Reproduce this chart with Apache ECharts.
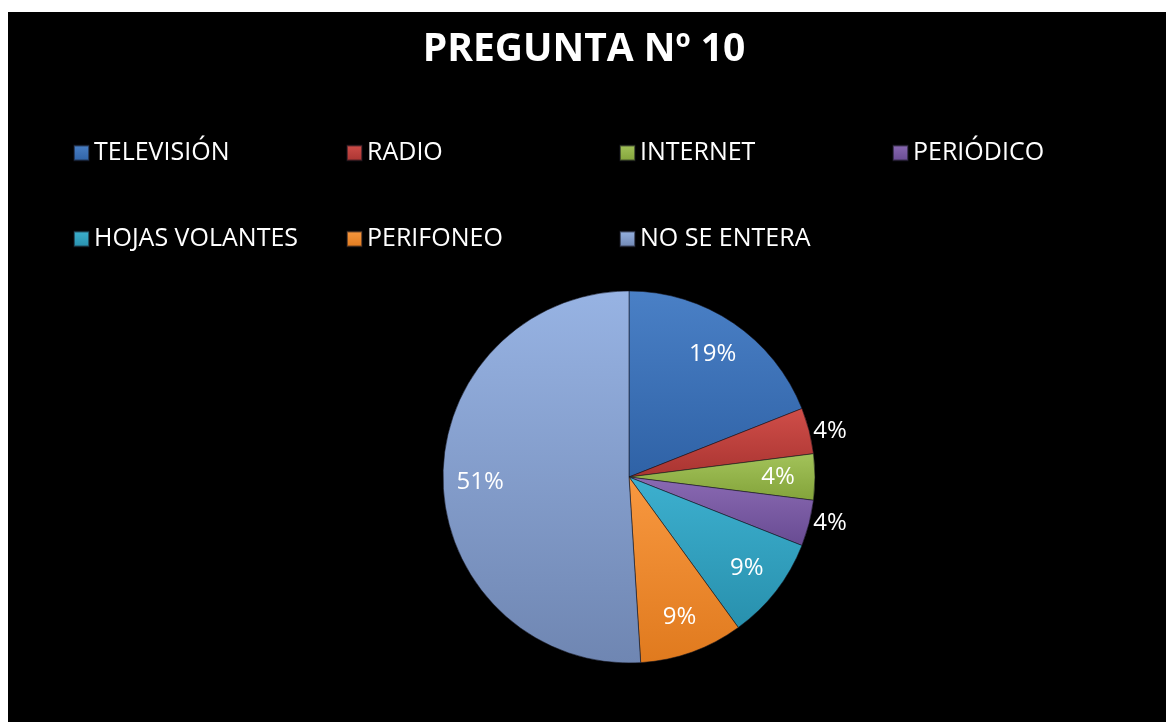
<!DOCTYPE html>
<html>
<head>
<meta charset="utf-8">
<script src="https://cdn.jsdelivr.net/npm/echarts@6/dist/echarts.min.js"></script>
<style>
  html, body { margin: 0; padding: 0; background: #fff; }
  #chart { position: absolute; left: 8px; top: 12px; width: 1158px; height: 710px; }
</style>
</head>
<body>
<div id="chart"></div>
<script>
// categorias y porcentajes
const categorias = ['TELEVISIÓN', 'RADIO', 'INTERNET', 'PERIÓDICO', 'HOJAS VOLANTES', 'PERIFONEO', 'NO SE ENTERA']
const porcentajes = [19, 4, 4, 4, 9, 9, 51]
// donde va la etiqueta de cada sector (como en el original)
const posEtiqueta = ['inside', 'outside', 'inside', 'outside', 'inside', 'inside', 'inside']

const colores = [
  ['#4a80c6', '#2f62a6'],
  ['#d04e49', '#a93431'],
  ['#a3c35a', '#83a33a'],
  ['#8a6ab3', '#684b92'],
  ['#3db0cf', '#2890ad'],
  ['#f89840', '#e07a1e'],
  ['#97b3e3', '#6f86b2']
]

function relleno (i) {
  return {
    type: 'linear', x: 0, y: 0, x2: 0, y2: 1,
    colorStops: [
      { offset: 0, color: colores[i][0] },
      { offset: 1, color: colores[i][1] }
    ]
  }
}

const chart = echarts.init(document.getElementById('chart'))

const option = {
  backgroundColor: '#000',
  animation: false,
  title: {
    text: 'PREGUNTA Nº 10',
    left: 571,
    textAlign: 'center',
    top: 12,
    textStyle: {
      color: '#fff',
      fontFamily: 'Open Sans',
      fontWeight: 'bold',
      fontSize: 39,
      lineHeight: 42
    }
  },
  legend: {
    left: 60,
    top: 93,
    width: 1092,
    itemWidth: 15,
    itemHeight: 15,
    itemGap: 0,
    icon: 'rect',
    data: categorias.map((c, i) => ({ name: c, itemStyle: { color: relleno(i) } })),
    textStyle: {
      color: '#fff',
      fontFamily: 'Open Sans',
      fontSize: 25,
      width: 252,
      height: 86,
      lineHeight: 86
    }
  },
  series: [
    { // sectores visibles + etiquetas exteriores
      type: 'pie',
      center: [621, 465],
      radius: 186,
      startAngle: 90,
      clockwise: true,
      avoidLabelOverlap: false,
      percentPrecision: 0,
      itemStyle: {
        borderColor: 'rgba(20,20,30,0.55)',
        borderWidth: 1
      },
      labelLine: { show: false, length: 0, length2: 0 },
      data: categorias.map((c, i) => ({
        name: c,
        value: porcentajes[i],
        itemStyle: { color: relleno(i) },
        label: {
          show: posEtiqueta[i] === 'outside',
          position: 'outside',
          distanceToLabelLine: 4,
          formatter: '{d}%',
          color: '#fff',
          fontFamily: 'Open Sans',
          fontSize: 24
        }
      }))
    },
    { // capa transparente solo para las etiquetas interiores
      type: 'pie',
      center: [621, 465],
      radius: 292,
      startAngle: 90,
      clockwise: true,
      silent: true,
      avoidLabelOverlap: false,
      percentPrecision: 0,
      z: 3,
      itemStyle: { color: 'rgba(0,0,0,0)', borderWidth: 0 },
      labelLine: { show: false },
      data: categorias.map((c, i) => ({
        name: c,
        value: porcentajes[i],
        label: {
          show: posEtiqueta[i] === 'inside',
          position: 'inside',
          formatter: '{d}%',
          color: '#fff',
          fontFamily: 'Open Sans',
          fontSize: 24
        }
      }))
    }
  ]
}

chart.setOption(option)
</script>
</body>
</html>
